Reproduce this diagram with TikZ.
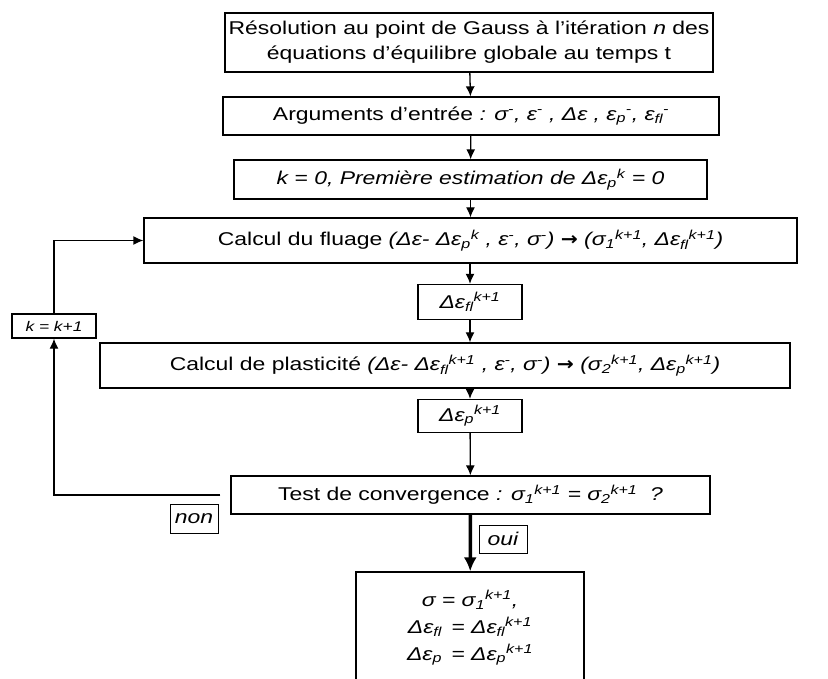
\documentclass[tikz,border=0pt]{standalone}
\usepackage{fontspec}
\setmainfont{Liberation Sans}[FakeStretch=1.24]
\newfontfamily\arrowfont{DejaVu Sans}[FakeStretch=1.1]
\usepackage{tikz}
\usetikzlibrary{arrows.meta,calc}

\newcommand{\up}[1]{\textsuperscript{#1}}
\newcommand{\dn}[1]{\textsubscript{#1}}
\newcommand{\gives}{{\arrowfont\upshape\bfseries →}}

\begin{document}
\begin{tikzpicture}[>={Latex[length=10pt,width=9pt]},x=1pt,y=-1pt,
    box/.style={draw,line width=1.3pt,inner sep=2pt,align=center,
      font=\fontsize{18.5}{25}\selectfont},
    lbl/.style={draw,line width=1pt,inner sep=1pt,font=\fontsize{18.5}{20}\selectfont\itshape},
    link/.style={->,line width=1.3pt}]
    \useasboundingbox (0,0) rectangle (828,679);
    % main column
    \node[box,minimum width=488,minimum height=59] (res) at (469,42.5)
      {Résolution au point de Gauss à l'itération \textit{n} des\\équations d'équilibre globale au temps t};
    \node[box,minimum width=496,minimum height=38] (args) at (471,116)
      {Arguments d'entrée \textit{: σ\up{-}, ε\up{-} , Δε , ε\dn{p}\up{-}, ε\dn{fl}\up{-}}};
    \node[box,minimum width=473,minimum height=39,font=\fontsize{18.5}{25}\selectfont\itshape] (init) at (470.5,179.5)
      {k = 0, Première estimation de Δε\dn{p}\up{k} = 0};
    \node[box,minimum width=653,minimum height=45] (flu) at (470.5,240.5)
      {Calcul du fluage \textit{(Δε- Δε\dn{p}\up{k} , ε\up{-}, σ\up{-}) \gives{} (σ\dn{1}\up{k+1}, Δε\dn{fl}\up{k+1})}};
    \node[box,minimum width=104,minimum height=35,font=\fontsize{18.5}{25}\selectfont\itshape] (dfl) at (470,302)
      {Δε\dn{fl}\up{k+1}};
    \node[box,minimum width=690,minimum height=45] (pla) at (445,365.5)
      {Calcul de plasticité \textit{(Δε- Δε\dn{fl}\up{k+1} , ε\up{-}, σ\up{-}) \gives{} (σ\dn{2}\up{k+1}, Δε\dn{p}\up{k+1})}};
    \node[box,minimum width=104,minimum height=33,font=\fontsize{18.5}{25}\selectfont\itshape] (dp) at (470,416)
      {Δε\dn{p}\up{k+1}};
    \node[box,minimum width=479,minimum height=38] (test) at (470.5,495)
      {Test de convergence \textit{: σ\dn{1}\up{k+1} = σ\dn{2}\up{k+1}\ \ ?}};
    \node[box,minimum width=228,minimum height=112,font=\fontsize{18.5}{27}\selectfont\itshape] (fin) at (470,628)
      {σ = σ\dn{1}\up{k+1},\\Δε\dn{fl} \,= Δε\dn{fl}\up{k+1}\\Δε\dn{p} \,= Δε\dn{p}\up{k+1}};
    % loop
    \node[draw,line width=1.3pt,minimum width=84,minimum height=24,inner sep=1pt,
      font=\fontsize{14}{15}\selectfont\itshape] (kinc) at (54,326) {k = k+1};
    \node[lbl,minimum width=48,minimum height=29] (non) at (194,518.5) {non};
    \node[lbl,minimum width=48,minimum height=28] (oui) at (503,539) {oui};
    \coordinate (back) at ($(test.west)+(-10,0)$);
    % arrows
    \draw[link] (res) -- (args);
    \draw[link] (args) -- (init);
    \draw[link] (init) -- (flu);
    \draw[link] (flu.south -| dfl) -- (dfl);
    \draw[link] (dfl) -- (pla.north -| dfl);
    \draw[link] (pla.south -| dp) -- (dp);
    \draw[link] (dp) -- (test);
    \draw[-{Latex[length=14pt,width=13pt]},line width=3.5pt] (test) -- (fin);
    \draw[link] (back) -| (kinc);
    \draw[link] (kinc) |- (flu);
\end{tikzpicture}
\end{document}
